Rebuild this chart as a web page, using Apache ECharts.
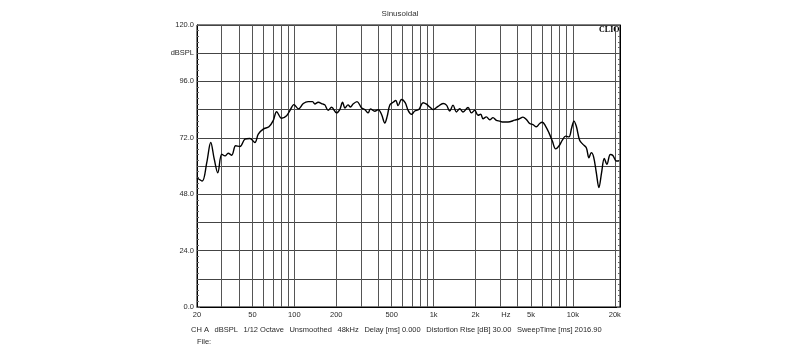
<!DOCTYPE html>
<html>
<head>
<meta charset="utf-8">
<script src="https://cdn.jsdelivr.net/npm/echarts@6/dist/echarts.min.js"></script>
<style>html,body{margin:0;padding:0;background:#fff}#c{width:800px;height:359px}</style>
</head>
<body>
<div id="c"></div>
<script>
const freqHz = [20,21.8,23.5,25.1,26.6,28.2,30.1,31.8,33.5,35.5,37.9,40.7,44.2,48,52.1,55.1,59.8,65.7,70.5,74.6,81,88,92.9,99.3,107,116,125.7,135.2,140.4,148.3,159.5,165.7,175,185,201,212,222,231,243,253,264,282,304,321,339,352,378,400,423,446,464,485,512,535,556,588,625,656,694,733,783,840,889,939,991,1077,1170,1237,1306,1379,1459,1541,1627,1767,1869,1974,2084,2180,2264,2394,2530,2670,2824,2983,3152,3422,3822,4102,4382,4636,4897,5171,5470,5776,6040,6378,6737,7125,7523,7943,8404,8874,9370,9798,10177,10588,11183,11810,12494,13040,13566,14092,14734,15382,16078,16812,17552,18566,19384,20500,21400];
const splDb = [55,53.6,61.4,70,62.9,57.1,65,64.3,65.4,64.6,68.6,68.3,71.4,71.7,70,73.6,75.7,76.7,79.3,83.1,80.3,81.4,83.6,86.1,84.3,86.6,87.4,87.4,86.4,87.1,86.4,86,83.7,85,82.6,84,87.1,84.7,86,85.1,86.4,87.4,84.7,84,82.6,84.3,83.3,84,81.9,78.3,81.1,86,87.1,87.9,85.7,88.3,87,83.7,82,83.4,84,86.9,86.3,85.1,84,85.4,86.6,85.9,83.4,85.9,83,84.4,83,84.9,82.6,83.7,81.6,82,80.1,80.9,79.7,80.6,79.4,79.1,78.7,78.7,79.5,80,80.8,79.8,78.1,77.6,76.7,78.1,78.6,76.9,74.1,70.6,67.3,68.5,71,72.7,72.4,76.2,79.1,76.9,71,69.2,67.8,63.5,65.7,63.9,57.2,50.8,57.2,63.2,60.7,64.9,64.5,62.1,62.1];
const gridFreqs = [20,30,40,50,60,70,80,90,100,200,300,400,500,600,700,800,900,1000,2000,3000,4000,5000,6000,7000,8000,9000,10000,20000];
const labelFreqs = [20,50,100,200,500,1000,2000,3300,5000,10000,20000];
const labelTexts = ['20','50','100','200','500','1k','2k','Hz','5k','10k','20k'];
const footerItems = ['CH A','dBSPL','1/12 Octave','Unsmoothed','48kHz','Delay [ms] 0.000','Distortion Rise [dB] 30.00','SweepTime [ms] 2016.90'];
const footerX = [191,214.5,243.4,289.4,337.5,364.4,426.3,516.9];

const FONT = 'Liberation Sans, Arial, sans-serif';
const TXT = '#2a2a2a';
const chart = echarts.init(document.getElementById('c'), null, {renderer:'canvas'});
const graphics = footerItems.map((t,i)=>({type:'text', x:footerX[i], y:330, style:{text:t, fontSize:7.5, fontFamily:FONT, fill:TXT, verticalAlign:'middle'}}));
graphics.push({type:'text', x:197, y:342, style:{text:'File:', fontSize:7.5, fontFamily:FONT, fill:TXT, verticalAlign:'middle'}});
graphics.push({type:'text', x:619.5, y:29.5, style:{text:'CLIO', fontSize:8, fontWeight:'bold', fontFamily:'Liberation Serif, Times New Roman, serif', fill:'#000', align:'right', verticalAlign:'middle'}});

chart.setOption({
  animation:false,
  backgroundColor:'#fff',
  title:{text:'Sinusoidal', left:'center', top:5, textStyle:{fontSize:8, fontWeight:'normal', color:'#333', fontFamily:FONT}},
  grid:{left:197, top:25, width:423, height:282, show:true, borderColor:'#000', borderWidth:1},
  xAxis:{type:'log', logBase:10, min:20, max:21800,
    axisLine:{show:true, lineStyle:{color:'#000', width:1}},
    axisTick:{show:false, customValues:gridFreqs},
    splitLine:{show:true, lineStyle:{color:'#555', width:1}},
    axisLabel:{show:true, customValues:labelFreqs, margin:4, fontSize:7.5, fontFamily:FONT, color:TXT,
      formatter:function(v){const i=labelFreqs.indexOf(Math.round(v)); return i>=0?labelTexts[i]:'';}}
  },
  yAxis:[{type:'value', min:0, max:120, interval:12, position:'left',
    axisLine:{show:true, lineStyle:{color:'#000'}},
    axisTick:{show:true, inside:true, length:3, lineStyle:{color:'#555'}},
    minorTick:{show:true, splitNumber:5, length:2, lineStyle:{color:'#666'}},
    splitLine:{show:true, lineStyle:{color:'#444', width:1}},
    axisLabel:{margin:3, fontSize:7.5, fontFamily:FONT, color:TXT,
      formatter:function(v){ if (v===108) return 'dBSPL'; return (v%24===0)? v.toFixed(1):''; }}
  },{type:'value', min:0, max:120, interval:12, position:'right',
    axisLine:{show:true, lineStyle:{color:'#000'}},
    axisTick:{show:true, inside:true, length:3, lineStyle:{color:'#555'}},
    minorTick:{show:true, splitNumber:5, length:2, lineStyle:{color:'#666'}},
    splitLine:{show:false}, axisLabel:{show:false}
  }],
  series:[{type:'line', data:freqHz.map((f,i)=>[f,splDb[i]]), showSymbol:false, smooth:0.35,
    lineStyle:{color:'#000', width:1.4}, clip:true}],
  graphic:graphics
});
</script>
</body>
</html>
